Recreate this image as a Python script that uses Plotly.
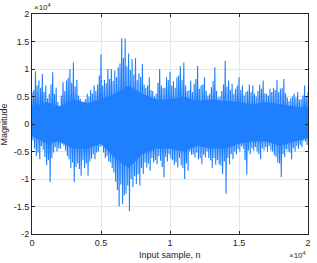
import plotly.graph_objects as go

# Sample positions of the envelope readings (every 250 samples)
sample_n = list(range(0, 20001, 250))

# Upper envelope (peak values, x10^4)
upper = [0.58, 0.96, 0.79, 0.91, 0.70, 0.55, 0.94, 0.66, 0.33, 0.76,
         0.79, 1.00, 1.12, 0.80, 0.46, 0.40, 0.55, 0.62, 0.70, 0.72,
         1.27, 0.80, 1.00, 1.00, 0.97, 1.03, 1.56, 1.55, 1.28, 1.18,
         1.20, 0.92, 1.09, 0.66, 0.85, 0.60, 0.55, 1.00, 0.65, 0.85,
         0.95, 0.78, 0.85, 1.05, 1.12, 0.60, 0.79, 0.73, 1.06, 0.70,
         0.85, 0.52, 0.67, 1.03, 0.48, 0.60, 1.15, 0.79, 0.73, 0.64,
         0.85, 0.70, 0.58, 0.72, 0.70, 0.50, 0.72, 0.79, 0.55, 0.64,
         0.66, 0.80, 0.64, 0.82, 0.48, 0.47, 0.55, 0.58, 0.45, 0.70,
         0.58]

# Lower envelope (trough values, x10^4)
lower = [-0.30, -0.58, -0.64, -0.47, -0.75, -1.06, -0.52, -0.50, -0.45, -0.40,
         -0.58, -0.80, -1.06, -0.72, -0.94, -0.80, -0.94, -0.63, -0.64, -0.50,
         -0.40, -0.62, -0.68, -0.80, -1.05, -1.50, -1.45, -1.27, -1.58, -1.15,
         -1.09, -1.12, -0.91, -0.79, -0.85, -0.70, -0.73, -0.67, -0.97, -0.68,
         -0.63, -0.74, -0.79, -0.75, -1.00, -0.85, -0.56, -0.61, -0.64, -0.73,
         -0.61, -0.62, -0.80, -0.74, -0.73, -0.91, -1.27, -0.73, -0.64, -0.55,
         -0.50, -0.45, -0.92, -0.55, -0.48, -0.50, -0.64, -0.48, -0.50, -0.48,
         -0.57, -0.70, -0.97, -0.60, -0.50, -0.64, -0.50, -0.45, -0.42, -0.32,
         -0.45]

# Secondary strokes halfway between the readings above (x10^4)
upper2 = [0.62, 0.70, 0.66, 0.58, 0.47, 0.72, 0.55, 0.40, 0.52, 0.60,
          0.84, 0.75, 0.68, 0.52, 0.38, 0.45, 0.50, 0.56, 0.60, 0.88,
          0.70, 0.74, 0.82, 0.78, 0.85, 1.10, 1.20, 1.05, 0.98, 0.90,
          0.80, 0.86, 0.72, 0.70, 0.62, 0.50, 0.75, 0.70, 0.66, 0.80,
          0.70, 0.66, 0.88, 0.80, 0.70, 0.62, 0.58, 0.82, 0.64, 0.72,
          0.60, 0.55, 0.78, 0.60, 0.50, 0.72, 0.68, 0.62, 0.55, 0.70,
          0.62, 0.52, 0.60, 0.58, 0.55, 0.60, 0.64, 0.56, 0.52, 0.58,
          0.62, 0.58, 0.66, 0.56, 0.42, 0.50, 0.48, 0.44, 0.52, 0.50]
lower2 = [-0.45, -0.52, -0.40, -0.60, -0.66, -0.62, -0.42, -0.44, -0.36, -0.48,
          -0.64, -0.70, -0.78, -0.82, -0.66, -0.72, -0.68, -0.55, -0.52, -0.42,
          -0.52, -0.58, -0.70, -0.88, -1.20, -1.10, -1.30, -1.12, -1.00, -0.95,
          -0.92, -0.80, -0.70, -0.72, -0.62, -0.66, -0.58, -0.78, -0.60, -0.55,
          -0.66, -0.70, -0.62, -0.80, -0.72, -0.50, -0.55, -0.52, -0.62, -0.56,
          -0.50, -0.66, -0.62, -0.66, -0.76, -0.68, -0.62, -0.55, -0.50, -0.46,
          -0.40, -0.66, -0.48, -0.44, -0.42, -0.55, -0.44, -0.42, -0.40, -0.50,
          -0.60, -0.72, -0.55, -0.46, -0.52, -0.44, -0.40, -0.38, -0.30, -0.38]

# Dense core of the signal (x10^4), every 1000 samples
core_n = list(range(0, 20001, 1000))
core_hi = [0.30, 0.40, 0.32, 0.45, 0.38, 0.45, 0.55, 0.70, 0.55, 0.45, 0.45,
           0.50, 0.42, 0.45, 0.42, 0.40, 0.36, 0.40, 0.36, 0.32, 0.30]
core_lo = [-0.22, -0.35, -0.32, -0.45, -0.45, -0.36, -0.62, -0.80, -0.55, -0.45, -0.45,
           -0.50, -0.40, -0.45, -0.45, -0.36, -0.32, -0.32, -0.40, -0.32, -0.26]

x_ticks = [0, 5000, 10000, 15000, 20000]
x_ticktext = ["0", "0.5", "1", "1.5", "2"]
y_ticks = [-2, -1.5, -1, -0.5, 0, 0.5, 1, 1.5, 2]
y_ticktext = ["-2", "-1.5", "-1", "-0.5", "0", "0.5", "1", "1.5", "2"]

SCALE = 1e4
BLUE = "#1f80ff"
TXT = "#262626"

xs, ys = [], []
for i, n in enumerate(sample_n):
    xs += [n, n + 62]
    ys += [upper[i] * SCALE, lower[i] * SCALE]
    if i < len(upper2):
        xs += [n + 125, n + 187]
        ys += [upper2[i] * SCALE, lower2[i] * SCALE]

fig = go.Figure()
fig.add_trace(go.Scatter(
    x=core_n + core_n[::-1],
    y=[v * SCALE for v in core_hi] + [v * SCALE for v in core_lo[::-1]],
    fill="toself", fillcolor=BLUE, line=dict(width=0), mode="lines",
    hoverinfo="skip"))
fig.add_trace(go.Scatter(x=xs, y=ys, mode="lines",
                         line=dict(color=BLUE, width=1.1)))

axis_common = dict(showgrid=True, gridcolor="#e6e6e6", gridwidth=1,
                   zeroline=False, showline=True, linecolor=TXT,
                   linewidth=1, mirror="ticks", ticks="inside", ticklen=3,
                   tickcolor=TXT,
                   tickfont=dict(family="Liberation Sans, Arial", size=9,
                                 color=TXT))

fig.update_layout(
    width=317, height=263,
    margin=dict(l=32, r=6, t=14, b=29),
    paper_bgcolor="white", plot_bgcolor="white",
    showlegend=False,
    xaxis=dict(range=[0, 20000], tickvals=x_ticks, ticktext=x_ticktext,
               **axis_common),
    yaxis=dict(range=[-2 * SCALE, 2 * SCALE],
               tickvals=[v * SCALE for v in y_ticks], ticktext=y_ticktext,
               **axis_common),
    font=dict(family="Liberation Sans, Arial", size=9, color=TXT),
    annotations=[
        dict(text="Input sample, n", x=0.5, y=-0.097, xref="paper",
             yref="paper", showarrow=False, xanchor="center",
             yanchor="middle", font=dict(size=9, color=TXT)),
        dict(text="Magnitude", x=-0.1, y=0.5, xref="paper", yref="paper",
             textangle=-90, showarrow=False, xanchor="center",
             yanchor="middle", font=dict(size=9, color=TXT)),
        dict(text="×10<sup>4</sup>", x=0, y=1.0, xref="paper", yref="paper",
             showarrow=False, xanchor="left", yanchor="bottom",
             font=dict(size=8, color=TXT)),
        dict(text="×10<sup>4</sup>", x=1.0, y=-0.097, xref="paper",
             yref="paper", showarrow=False, xanchor="right",
             yanchor="middle", font=dict(size=8, color=TXT)),
    ],
)

fig.write_html("out.html", config={"displayModeBar": False},
               post_script="document.body.style.margin='0';")
